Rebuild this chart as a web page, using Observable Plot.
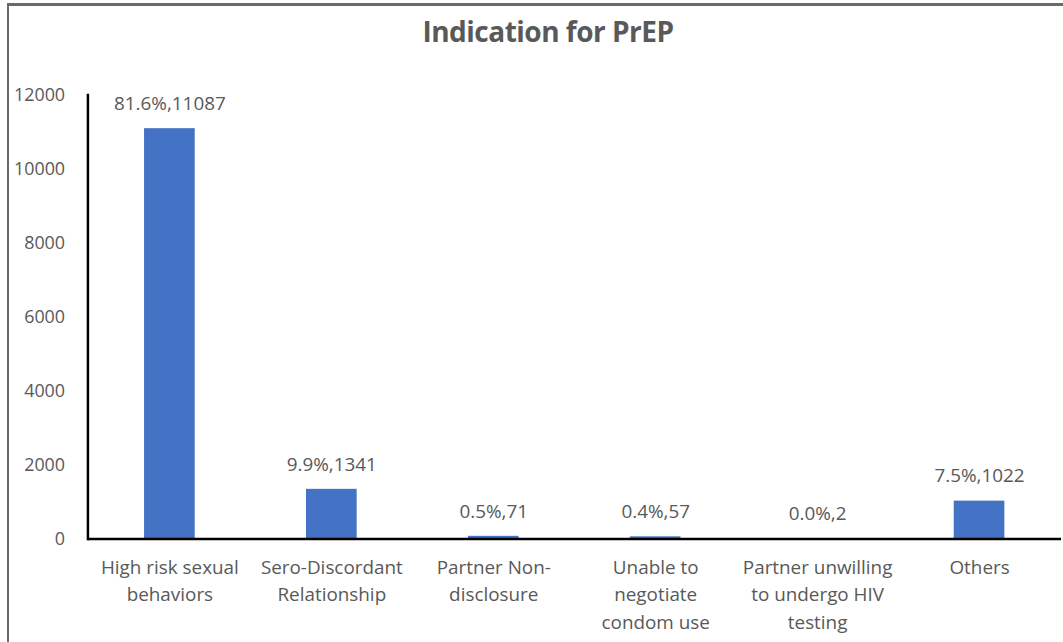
<!DOCTYPE html>
<html><head><meta charset="utf-8">
<script src="https://cdn.jsdelivr.net/npm/d3@7"></script>
<script src="https://cdn.jsdelivr.net/npm/@observablehq/plot@0.6"></script>
<style>
html,body{margin:0;padding:0;}
body{overflow:hidden;background:#fff;width:1063px;height:642px;position:relative;font-family:"Open Sans",sans-serif;}
#frame{position:absolute;left:7px;top:3px;width:1200px;height:800px;border-left:2px solid #6a6a6a;border-top:3px solid #6a6a6a;}
#title{position:absolute;top:13px;left:0;width:1096px;text-align:center;font:bold 28px "Open Sans",sans-serif;line-height:36px;color:#595959;letter-spacing:-0.5px;}
#chart{position:absolute;left:0;top:0;}
</style></head><body>
<div id="frame"></div>
<div id="title">Indication for PrEP</div>
<div id="chart"></div>
<script>
const categories = [
  "High risk sexual\nbehaviors",
  "Sero-Discordant\nRelationship",
  "Partner Non-\ndisclosure",
  "Unable to\nnegotiate\ncondom use",
  "Partner unwilling\nto undergo HIV\ntesting",
  "Others"
];
const counts = [11087, 1341, 71, 57, 2, 1022];
const percents = ["81.6%", "9.9%", "0.5%", "0.4%", "0.0%", "7.5%"];
const yTicks = [0, 2000, 4000, 6000, 8000, 10000, 12000];

const data = categories.map((c, i) => ({category: c, count: counts[i], pct: percents[i]}));

const chart = Plot.plot({
  width: 1070,
  height: 642,
  marginLeft: 88,
  marginRight: 2,
  marginTop: 95,
  marginBottom: 100,
  style: {fontFamily: "Open Sans, sans-serif", fontSize: "19px", color: "#595959", background: "transparent", overflow: "visible"},
  x: {domain: categories, paddingInner: 0.69, paddingOuter: 0.345, label: null},
  y: {domain: [0, 12000], label: null},
  marks: [
    Plot.barY(data, {x: "category", y: "count", fill: "#4472C4"}),
    Plot.axisY({ticks: yTicks, tickSize: 0, tickPadding: 23, fontSize: 18, fill: "#595959", label: null, tickFormat: d => String(d)}),
    Plot.axisX({tickSize: 0, tickPadding: 15, lineHeight: 1.47, fontSize: 19, fill: "#595959", label: null}),
    Plot.frame({anchor: "left", stroke: "#000", strokeWidth: 2.5}),
    Plot.ruleY([0], {stroke: "#000", strokeWidth: 2.5}),
    Plot.text(data, {x: "category", y: "count", text: d => `${d.pct},${d.count}`, dy: -25, fontSize: 19, fill: "#595959"})
  ]
});
document.getElementById("chart").appendChild(chart);
</script>
</body></html>
